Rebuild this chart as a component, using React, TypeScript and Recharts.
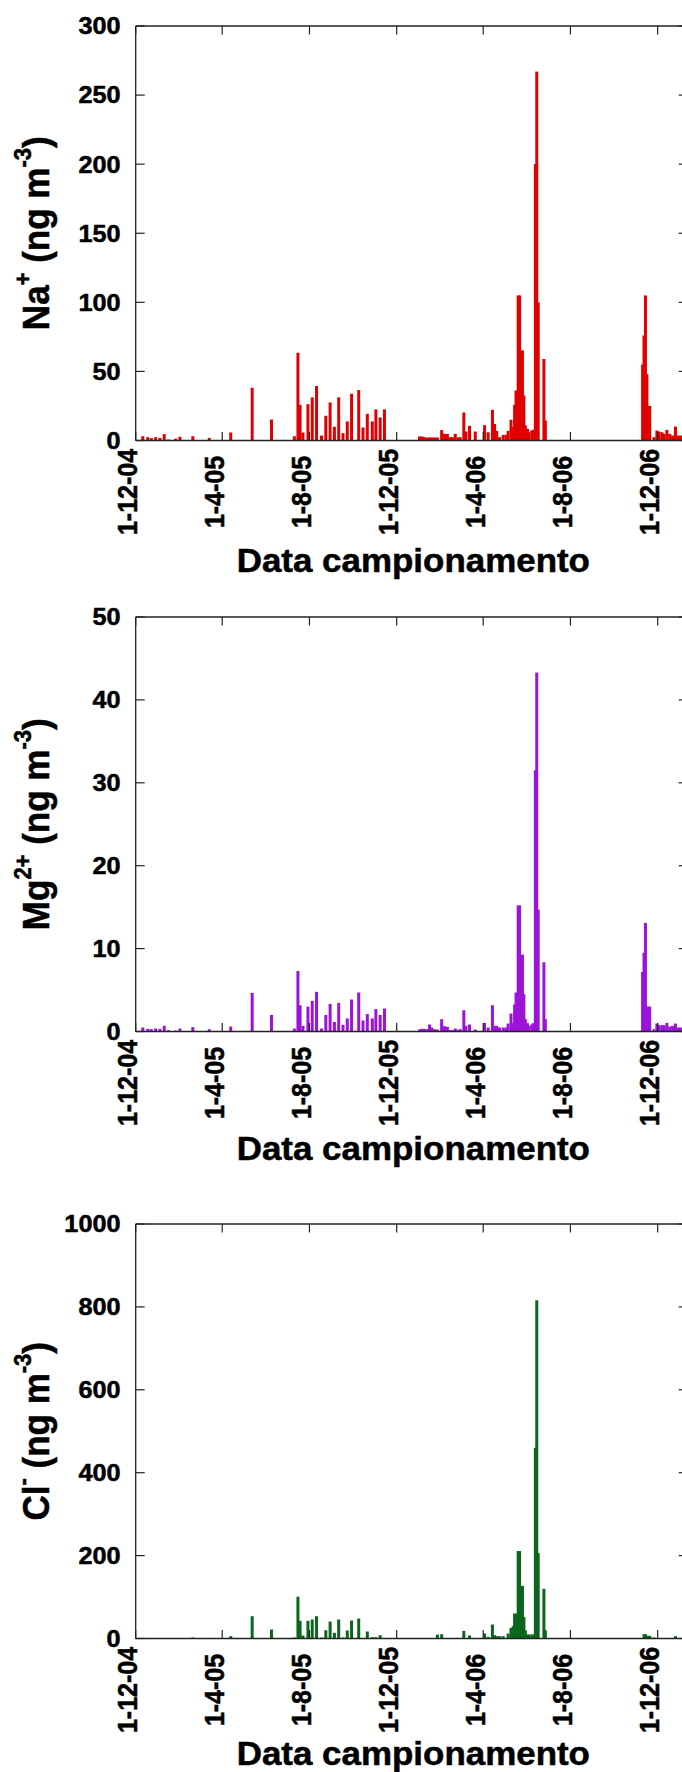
import { BarChart, Bar, XAxis, YAxis, ReferenceLine } from "recharts";

// sampling days, counted from 1-12-2004
const sampleDay = [
  10, 17, 22, 28, 34, 40, 46, 56, 62, 80, 103, 133, 163, 190, 222, 227, 230, 234, 241, 247, 253, 260, 266, 272, 278, 284, 290,
  296, 302, 312, 318, 324, 331, 336, 342, 348,
  397, 400, 403, 407, 411, 414, 418, 422, 428, 432, 436, 440, 443, 447, 451, 454, 459, 462, 467, 475, 488, 493, 499, 502, 505,
  509, 514, 518, 521, 525, 528, 530, 532, 535, 537, 541, 543, 545, 548, 550, 554, 556, 559, 561, 563, 571, 573,
  709, 711, 713, 715, 717, 719, 725, 729, 732, 736, 739, 743, 747, 751, 755, 758, 762,
];

const naValues = [
  3.1, 2.4, 1.7, 2.4, 1.9, 4.6, 0.7, 1.4, 2.7, 3.1, 1.9, 5.8, 38.2, 15.2, 3.1, 63.5, 25.8, 5.8, 26.3, 31.2, 39.4, 3.6, 17.9, 27.5,
  9.9, 31.2, 5.3, 13.8, 33.8, 36.5, 9.4, 19.3, 13.8, 22.5, 16.7, 22.5,
  2.9, 2.9, 2.5, 2.2, 2.2, 2.2, 2.2, 2.2, 7.5, 4.8, 4.8, 2.4, 2.4, 4.8, 2.2, 2.4, 20.3, 6.5, 10.6, 6.5, 11.1, 6.0, 22.2, 12, 7,
  2.4, 4.1, 4.1, 7, 15, 9.7, 25.8, 36.2, 105, 105, 65.2, 32.6, 10.9, 8.5, 6, 7.2, 7.7, 200, 267, 100, 59, 14.5,
  55, 76, 105, 48, 25, 25, 2.4, 7.2, 6.5, 6, 4.8, 7.7, 4.8, 3.6, 10.1, 3.6, 3.6,
];

const mgValues = [
  0.48, 0.32, 0.28, 0.36, 0.32, 0.68, 0.16, 0.12, 0.36, 0.52, 0.28, 0.6, 4.66, 2.0, 0.36, 7.3, 3.17, 0.68, 3.0, 3.7, 4.78, 0.36,
  2.0, 3.33, 1.16, 3.45, 0.8, 1.57, 3.86, 4.7, 1.33, 2.1, 1.57, 2.7, 2.0, 2.77,
  0.24, 0.32, 0.32, 0.28, 0.84, 0.48, 0.28, 0.24, 1.49, 0.64, 0.56, 0.16, 0.16, 0.36, 0.2, 0.28, 2.57, 0.68, 0.84, 0.24, 1.04,
  0.48, 3.17, 0.68, 0.68, 0.48, 0.48, 0.48, 0.96, 2.17, 1.0, 3.25, 4.7, 15.2, 15.2, 9.28, 4.5, 1.49, 1.0, 0.68, 0.84, 1.0, 31.5,
  43.3, 14.7, 8.35, 1.5,
  7.2, 9.5, 13.1, 3.0, 3.0, 3.0, 0.28, 0.96, 0.76, 0.76, 0.76, 1.04, 0.6, 0.68, 0.96, 0.48, 0.48,
];

const clValues = [
  0, 0, 0, 0, 0, 0, 0, 0, 0, 2.4, 0, 5.6, 53.8, 21.7, 2.4, 101, 42.6, 7.2, 42.6, 45.8, 53.8, 2.4, 20, 41, 13.7, 45.8, 2.4, 19.3,
  43.4, 48.2, 0, 16.9, 3.2, 3.2, 8, 0,
  0, 0, 0, 0, 0, 0, 0, 9.6, 10.4, 0, 0, 0, 0, 0, 0, 0, 18.5, 0, 7.2, 0, 12, 4, 33.7, 8, 5.6, 5.6, 5.6, 0, 12, 25.7, 29.7, 60, 60,
  211, 211, 127, 52, 20, 9.6, 9.6, 9.6, 9.6, 460, 816, 206, 120, 20,
  0, 10.4, 10.4, 6.4, 6.4, 6.4, 2.4, 0, 0, 0, 0, 0, 0, 0, 5.6, 0, 0,
];

const tickDays = [0, 121, 243, 365, 486, 608, 730];
const tickLabels = ["1-12-04", "1-4-05", "1-8-05", "1-12-05", "1-4-06", "1-8-06", "1-12-06"];
const naTicks = [0, 50, 100, 150, 200, 250, 300];
const mgTicks = [0, 10, 20, 30, 40, 50];
const clTicks = [0, 200, 400, 600, 800, 1000];

const data = sampleDay.map((day, i) => ({ day, na: naValues[i], mg: mgValues[i], cl: clValues[i] }));

const FONT = "'Liberation Sans', Arial, Helvetica, sans-serif";
const SX = 1.075; // the lettering of the original is a bit wider than plain Arial
const CHART_W = 700;
const CHART_H = 600;
const PLOT_LEFT = 135.7;
const PLOT_RIGHT = 687.7;
const PLOT_TOP = 26;
const PLOT_H = 414.5;
const PLOT_BOTTOM = PLOT_TOP + PLOT_H;
const DAY_MAX = 772;
const AXIS = "#222";
// heavier lettering, as in the original
const textStyle = { fontFamily: FONT, fontWeight: "bold" as const, fill: "#000", stroke: "#000", strokeWidth: 0.5 };

function XTick(props: any) {
  const { x, payload } = props;
  const label = tickLabels[tickDays.indexOf(payload.value)];
  return (
    <g>
      <line x1={x} x2={x} y1={PLOT_BOTTOM} y2={PLOT_BOTTOM - 8.5} stroke={AXIS} strokeWidth={1.2} />
      <line x1={x} x2={x} y1={PLOT_TOP} y2={PLOT_TOP + 8.5} stroke={AXIS} strokeWidth={1.2} />
      <g transform={`translate(${x + 1.5},${PLOT_BOTTOM + 51.5}) scale(${SX},1) rotate(-90)`}>
        <text textAnchor="middle" fontSize={25} {...textStyle}>
          {label}
        </text>
      </g>
    </g>
  );
}

function YTick(props: any) {
  const { y, payload } = props;
  return (
    <g>
      <line x1={PLOT_LEFT} x2={PLOT_LEFT + 9} y1={y} y2={y} stroke={AXIS} strokeWidth={1.2} />
      <line x1={PLOT_RIGHT - 9} x2={PLOT_RIGHT} y1={y} y2={y} stroke={AXIS} strokeWidth={1.2} />
      <g transform={`translate(${PLOT_LEFT - 15.2},${y + 8.4}) scale(${SX},1)`}>
        <text textAnchor="end" fontSize={23.5} {...textStyle}>
          {payload.value}
        </text>
      </g>
    </g>
  );
}

function YTitle({ ion, charge }: { ion: string; charge: string }) {
  return (
    <g transform={`translate(48.5,${PLOT_TOP + PLOT_H / 2}) scale(${SX},1) rotate(-90)`}>
      <text textAnchor="middle" fontSize={35} {...textStyle}>
        {ion}
        <tspan fontSize={22} dy={-16}>
          {charge}
        </tspan>
        <tspan fontSize={35} dy={16}>
          {" (ng m"}
        </tspan>
        <tspan fontSize={22} dy={-16}>
          {"-3"}
        </tspan>
        <tspan fontSize={35} dy={16}>
          {")"}
        </tspan>
      </text>
    </g>
  );
}

function XTitle({ dy }: { dy: number }) {
  return (
    <g transform={`translate(413.3,${PLOT_BOTTOM + dy}) scale(${SX},1)`}>
      <text textAnchor="middle" fontSize={32.5} {...textStyle}>
        Data campionamento
      </text>
    </g>
  );
}

function SampleBar(props: any) {
  const { x, y, width, height, fill } = props;
  if (!height || height <= 0) return null;
  const cx = x + width / 2;
  return <rect x={cx - 1.5} y={y} width={3} height={height} fill={fill} />;
}

interface PanelProps {
  top: number;
  dataKey: string;
  color: string;
  yTicks: number[];
  ion: string;
  charge: string;
  titleDy: number;
}

function Panel({ top, dataKey, color, yTicks, ion, charge, titleDy }: PanelProps) {
  const yMax = yTicks[yTicks.length - 1];
  return (
    <div style={{ position: "absolute", left: 0, top }}>
      <BarChart
        width={CHART_W}
        height={CHART_H}
        data={data}
        margin={{ top: PLOT_TOP, right: CHART_W - PLOT_RIGHT, bottom: 0, left: 0 }}
      >
        <XAxis
          dataKey="day"
          type="number"
          domain={[0, DAY_MAX]}
          allowDataOverflow
          ticks={tickDays}
          interval={0}
          height={CHART_H - PLOT_BOTTOM}
          tickLine={false}
          axisLine={{ stroke: AXIS, strokeWidth: 1.3 }}
          tick={(p: any) => <XTick {...p} />}
          label={<XTitle dy={titleDy} />}
        />
        <YAxis
          type="number"
          domain={[0, yMax]}
          ticks={yTicks}
          interval={0}
          width={PLOT_LEFT}
          tickLine={false}
          axisLine={{ stroke: AXIS, strokeWidth: 1.3 }}
          tick={(p: any) => <YTick {...p} />}
          label={<YTitle ion={ion} charge={charge} />}
        />
        <ReferenceLine y={yMax} stroke={AXIS} strokeWidth={1.3} />
        <ReferenceLine x={DAY_MAX} stroke={AXIS} strokeWidth={1.3} />
        <Bar dataKey={dataKey} fill={color} isAnimationActive={false} shape={(p: any) => <SampleBar {...p} />} />
      </BarChart>
    </div>
  );
}

export default function App() {
  return (
    <div
      style={{
        position: "absolute",
        left: 0,
        top: 0,
        width: 682,
        height: 1772,
        overflow: "hidden",
        background: "#fff",
      }}
    >
      <Panel top={0} dataKey="na" color="#e00000" yTicks={naTicks} ion="Na" charge="+" titleDy={131.2} />
      <Panel top={591.3} dataKey="mg" color="#9b14d8" yTicks={mgTicks} ion="Mg" charge="2+" titleDy={128} />
      <Panel top={1198} dataKey="cl" color="#0b661c" yTicks={clTicks} ion="Cl" charge="-" titleDy={126.5} />
    </div>
  );
}
